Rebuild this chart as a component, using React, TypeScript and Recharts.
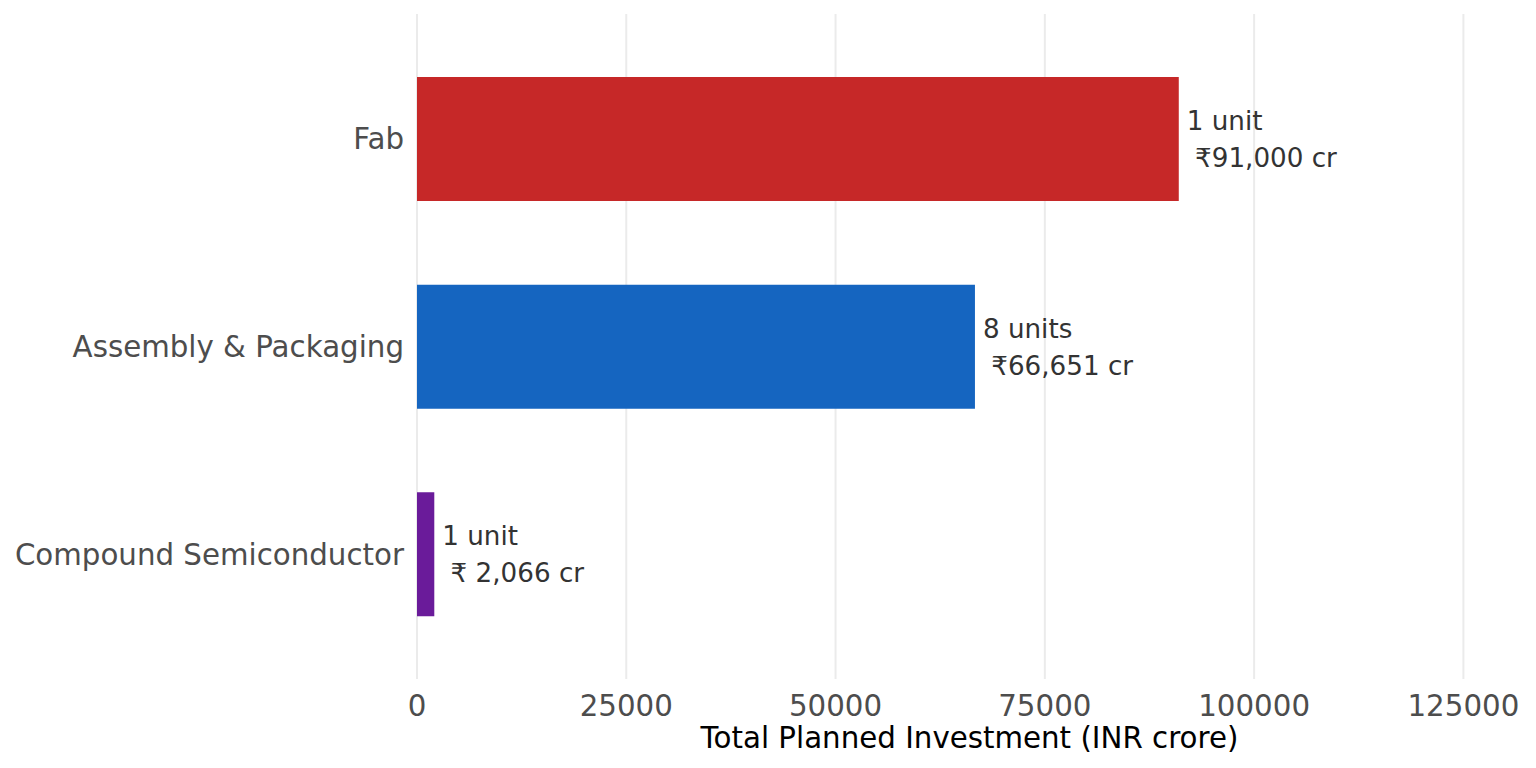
import React from "react"
import { BarChart, Bar, XAxis, YAxis, CartesianGrid, Cell, LabelList, Label } from "recharts"

const categories = ["Fab", "Assembly & Packaging", "Compound Semiconductor"]
const investment = [91000, 66651, 2066]
const unitLabels = ["1 unit", "8 units", "1 unit"]
const amountLabels = [" ₹91,000 cr", " ₹66,651 cr", " ₹ 2,066 cr"]
const barColors = ["#C62828", "#1565C0", "#6A1B9A"]
const xTicks = [0, 25000, 50000, 75000, 100000, 125000]

const data = categories.map((name, i) => ({ name, value: investment[i] }))

const FONT = "'DejaVu Sans', sans-serif"

function BarLabel(props: any) {
  const { x, y, width, height, index } = props
  const cx = Number(x) + Number(width) + 8
  const cy = Number(y) + Number(height) / 2
  return (
    <text fontSize={26.2} fill="#333333" fontFamily={FONT} style={{ whiteSpace: "pre" }}>
      <tspan x={cx} y={cy - 9}>{unitLabels[index]}</tspan>
      <tspan x={cx} y={cy + 28}>{amountLabels[index]}</tspan>
    </text>
  )
}

export default function App() {
  return (
    <div style={{ width: 1520, height: 760, fontFamily: FONT }}>
      <BarChart
        width={1520}
        height={760}
        data={data}
        layout="vertical"
        margin={{ top: 6, right: 6, bottom: 0, left: 0 }}
      >
        {/* syncWithTicks so no line is added at the panel edge */}
        <CartesianGrid horizontal={false} stroke="#EBEBEB" strokeWidth={2} syncWithTicks />
        <XAxis
          type="number"
          domain={[0, 132000]}
          ticks={xTicks}
          allowDataOverflow
          axisLine={false}
          tickLine={false}
          tickSize={0}
          tickMargin={16}
          height={89}
          tick={{ fill: "#4D4D4D", fontSize: 29.3, fontFamily: FONT }}
        >
          <Label
            content={({ viewBox }: any) => (
              <text
                x={viewBox.x + viewBox.width / 2}
                y={viewBox.y + 69}
                textAnchor="middle"
                fontSize={29.3}
                fill="#000000"
                fontFamily={FONT}
              >
                Total Planned Investment (INR crore)
              </text>
            )}
          />
        </XAxis>
        <YAxis
          type="category"
          dataKey="name"
          width={409}
          axisLine={false}
          tickLine={false}
          tickSize={0}
          tickMargin={13}
          padding={{ top: 21, bottom: 21 }}
          tick={{ fill: "#4D4D4D", fontSize: 29.3, fontFamily: FONT }}
        />
        <Bar dataKey="value" barSize={124} isAnimationActive={false}>
          {data.map((d, i) => (
            <Cell key={d.name} fill={barColors[i]} />
          ))}
          <LabelList dataKey="value" content={BarLabel} />
        </Bar>
      </BarChart>
    </div>
  )
}
